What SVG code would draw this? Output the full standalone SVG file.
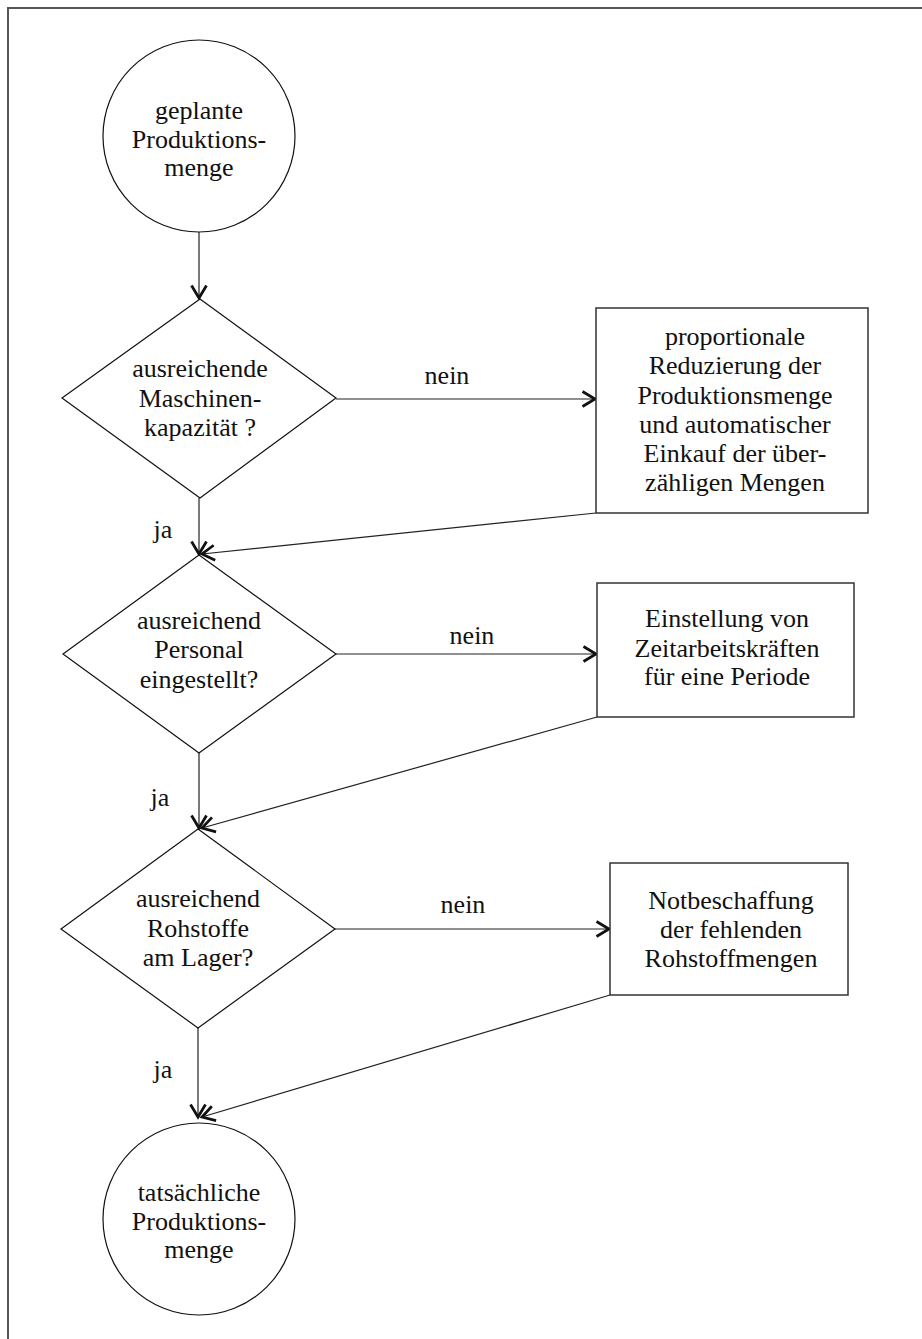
<svg xmlns="http://www.w3.org/2000/svg" width="922" height="1339" viewBox="0 0 922 1339" font-family="'Liberation Serif', 'Times New Roman', serif" font-size="26" text-anchor="middle">
<style>
.shape{fill:#fff;stroke:#111;stroke-width:1.2}
.box{fill:#fff;stroke:#333;stroke-width:1.5}
.conn{fill:none;stroke:#222;stroke-width:1.2}
text{fill:#111}
</style>
<defs>
<marker id="arr" markerUnits="userSpaceOnUse" markerWidth="20" markerHeight="20" viewBox="-12 -8 14 16" refX="0" refY="0" orient="auto">
<path d="M-10,-6 L0,0 L-10,6" fill="none" stroke="#111" stroke-width="2.2"/>
</marker>
</defs>
<rect width="922" height="1339" fill="#fff"/>
<path d="M8,1339 V8 H922" fill="none" stroke="#555" stroke-width="2"/>

<g id="connectors">
<line class="conn" x1="199" y1="232" x2="199" y2="298" marker-end="url(#arr)"/>
<line class="conn" x1="336" y1="399" x2="595" y2="399" marker-end="url(#arr)"/>
<line class="conn" x1="199" y1="498" x2="199" y2="554" marker-end="url(#arr)"/>
<line class="conn" x1="596" y1="513" x2="202" y2="554" marker-end="url(#arr)"/>
<line class="conn" x1="336" y1="654" x2="596" y2="654" marker-end="url(#arr)"/>
<line class="conn" x1="199" y1="753" x2="199" y2="828" marker-end="url(#arr)"/>
<line class="conn" x1="597" y1="717" x2="202" y2="828" marker-end="url(#arr)"/>
<line class="conn" x1="335" y1="929" x2="609" y2="929" marker-end="url(#arr)"/>
<line class="conn" x1="198" y1="1028" x2="198" y2="1117" marker-end="url(#arr)"/>
<line class="conn" x1="610" y1="995" x2="202" y2="1117" marker-end="url(#arr)"/>
<text x="447" y="384">nein</text>
<text x="472" y="644">nein</text>
<text x="463" y="913">nein</text>
<text x="163" y="538">ja</text>
<text x="160" y="806">ja</text>
<text x="163" y="1078">ja</text>
</g>

<g id="start">
<circle class="shape" cx="199" cy="136" r="96"/>
<text x="199" y="119">geplante</text>
<text x="199" y="148">Produktions-</text>
<text x="199" y="176">menge</text>
</g>

<g id="dec1">
<polygon class="shape" points="200,299 336,398 200,498 62,398"/>
<text x="200" y="377">ausreichende</text>
<text x="200" y="407">Maschinen-</text>
<text x="200" y="436">kapazität ?</text>
</g>

<g id="box1">
<rect class="box" x="596" y="308" width="272" height="205"/>
<text x="735" y="345">proportionale</text>
<text x="735" y="374">Reduzierung der</text>
<text x="735" y="404">Produktionsmenge</text>
<text x="735" y="433">und automatischer</text>
<text x="735" y="462">Einkauf der über-</text>
<text x="735" y="491">zähligen Mengen</text>
</g>

<g id="dec2">
<polygon class="shape" points="199,555 336,654 199,753 63,654"/>
<text x="199" y="629">ausreichend</text>
<text x="199" y="658">Personal</text>
<text x="199" y="688">eingestellt?</text>
</g>

<g id="box2">
<rect class="box" x="597" y="583" width="257" height="134"/>
<text x="727" y="627">Einstellung von</text>
<text x="727" y="657">Zeitarbeitskräften</text>
<text x="727" y="685">für eine Periode</text>
</g>

<g id="dec3">
<polygon class="shape" points="198,829 335,929 198,1028 61,929"/>
<text x="198" y="907">ausreichend</text>
<text x="198" y="937">Rohstoffe</text>
<text x="198" y="966">am Lager?</text>
</g>

<g id="box3">
<rect class="box" x="610" y="863" width="238" height="132"/>
<text x="731" y="909">Notbeschaffung</text>
<text x="731" y="938">der fehlenden</text>
<text x="731" y="967">Rohstoffmengen</text>
</g>

<g id="end">
<circle class="shape" cx="199" cy="1219" r="96"/>
<text x="199" y="1201">tatsächliche</text>
<text x="199" y="1230">Produktions-</text>
<text x="199" y="1258">menge</text>
</g>
</svg>
